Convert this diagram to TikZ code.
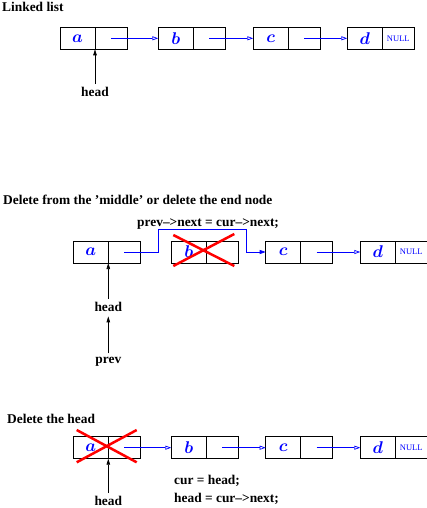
\documentclass[tikz,border=0pt]{standalone}
\usepackage{fix-cm}
\usepackage{fontspec}
\setmainfont{Liberation Serif}
\usetikzlibrary{arrows.meta}
\begin{document}
\begin{tikzpicture}[x=1pt,y=-1pt,
 lcell/.style={draw, line width=0.7pt, minimum width=35pt, minimum height=22pt, inner sep=0pt, outer sep=0pt, anchor=north west, text=blue, font=\fontsize{17}{17}\selectfont\boldmath},
 rcell/.style={draw, line width=0.7pt, minimum width=32pt, minimum height=22pt, inner sep=0pt, outer sep=0pt, anchor=west, text=blue, font=\fontsize{8.5}{9}\selectfont},
 lbl/.style={font=\bfseries\fontsize{13.4}{13.4}\selectfont, inner sep=0pt, anchor=base west},
 ptrlbl/.style={font=\bfseries\fontsize{13.4}{13.4}\selectfont, inner sep=0pt, anchor=base},
 link/.style={draw=blue, line width=0.7pt, -{Triangle[open,length=6pt,width=4pt]}},
 ptr/.style={draw, line width=0.7pt, -{Triangle[length=6pt,width=3.5pt]}},
 cross/.style={draw=red, line width=2.5pt},
]
\useasboundingbox (0,0) rectangle (427,508);
% ---------- Row 1
\node[lbl] (t1) at (2,12) {Linked list};
\node[lcell] (a1) at (60,27.3) {$a$};
\node[rcell] (a1r) at (a1.east) {};
\node[lcell] (b1) at (158.3,27.3) {$b$};
\node[rcell] (b1r) at (b1.east) {};
\node[lcell] (c1) at (253.3,27.3) {$c$};
\node[rcell] (c1r) at (c1.east) {};
\node[lcell] (d1) at (347.3,27.3) {$d$};
\node[rcell] (d1r) at (d1.east) {NULL};
\draw[link] (a1r.center) -- (b1.west);
\draw[link] (b1r.center) -- (c1.west);
\draw[link] (c1r.center) -- (d1.west);
\node[ptrlbl] (h1) at (a1.south east |- 0,96.7) {head};
\draw[ptr, shorten <=3pt] (h1.north) -- (a1.south east);
% ---------- Row 2
\node[lbl] (t2) at (3,204) {Delete from the 'middle' or delete the end node};
\node[lbl] (s2) at (137,226.5) {prev–>next = cur–>next;};
\node[lcell] (a2) at (73.3,241) {$a$};
\node[rcell] (a2r) at (a2.east) {};
\node[lcell] (b2) at (171.3,241) {$b$};
\node[rcell] (b2r) at (b2.east) {};
\node[lcell] (c2) at (265.7,241) {$c$};
\node[rcell] (c2r) at (c2.east) {};
\node[lcell] (d2) at (360.3,241) {$d$};
\node[rcell] (d2r) at (d2.east) {NULL};
\coordinate (p1) at (158.3,229);
\coordinate (p2) at (246,229);
\draw[draw=blue, line width=0.7pt, -{Triangle[length=6pt,width=4pt]}]
  (a2r.center) -| (p1) -- (p2) |- (c2.west);
\draw[link] (c2r.center) -- (d2.west);
\coordinate (x1) at (173.3,235);
\coordinate (x2) at (234.3,266);
\coordinate (x3) at (173.3,266);
\coordinate (x4) at (234.3,234);
\draw[cross] (x1) -- (x2);
\draw[cross] (x3) -- (x4);
\node[ptrlbl] (h2) at (a2.south east |- 0,311) {head};
\draw[ptr, shorten <=3pt] (h2.north) -- (a2.south east);
\node[ptrlbl] (pv) at (a2.south east |- 0,363) {prev};
\draw[ptr, shorten <=3pt, shorten >=5pt] (pv.north) -- (h2.south);
% ---------- Row 3
\node[lbl] (t3) at (7,423.3) {Delete the head};
\node[lcell] (a3) at (73.3,436.7) {$a$};
\node[rcell] (a3r) at (a3.east) {};
\node[lcell] (b3) at (171.3,436.7) {$b$};
\node[rcell] (b3r) at (b3.east) {};
\node[lcell] (c3) at (265.7,436.7) {$c$};
\node[rcell] (c3r) at (c3.east) {};
\node[lcell] (d3) at (360.3,436.7) {$d$};
\node[rcell] (d3r) at (d3.east) {NULL};
\draw[link] (a3r.center) -- (b3.west);
\draw[link] (b3r.center) -- (c3.west);
\draw[link] (c3r.center) -- (d3.west);
\coordinate (y1) at (76.7,430);
\coordinate (y2) at (136.7,462.3);
\coordinate (y3) at (76.7,462.3);
\coordinate (y4) at (136.7,430);
\draw[cross] (y1) -- (y2);
\draw[cross] (y3) -- (y4);
\node[ptrlbl] (h3) at (a3.south east |- 0,505.5) {head};
\draw[ptr, shorten <=3pt] (h3.north) -- (a3.south east);
\node[lbl] (s3) at (174,484) {cur = head;};
\node[lbl] (s4) at (174,502.7) {head = cur–>next;};
\end{tikzpicture}
\end{document}
